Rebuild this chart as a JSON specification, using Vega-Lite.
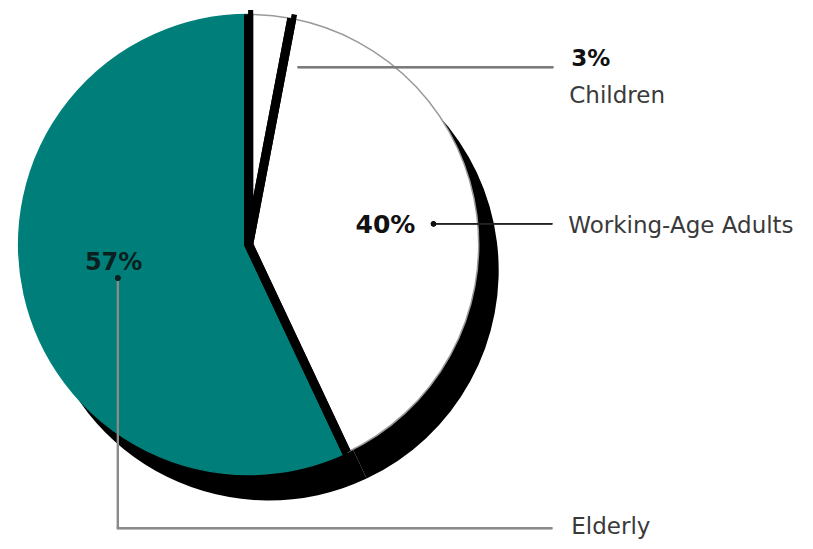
{
  "$schema": "https://vega.github.io/schema/vega-lite/v6.json",
  "width": 813,
  "height": 549,
  "autosize": {"type": "fit", "contains": "padding"},
  "padding": 0,
  "background": "white",
  "config": {"view": {"stroke": null}},
  "data": {
    "values": [
      {"group": "Children", "share": 0.03},
      {"group": "Working-Age Adults", "share": 0.40},
      {"group": "Elderly", "share": 0.57}
    ]
  },
  "transform": [
    {"stack": "share", "groupby": [], "sort": [{"field": "share", "order": "ascending"}], "as": ["t0", "t1"]}
  ],
  "layer": [
    {
      "mark": {"type": "arc", "outerRadius": 230, "fill": "black", "stroke": null, "xOffset": 20, "yOffset": 26},
      "encoding": {
        "x": {"datum": 248, "type": "quantitative", "scale": {"domain": [0, 813], "nice": false, "zero": false}, "axis": null},
        "y": {"datum": 240, "type": "quantitative", "scale": {"domain": [0, 549], "nice": false, "zero": false, "reverse": true}, "axis": null},
        "theta": {"field": "t0", "type": "quantitative", "scale": {"domain": [0, 1]}},
        "theta2": {"field": "t1"}
      }
    },
    {
      "mark": {"type": "arc", "outerRadius": 230, "strokeWidth": 1.5},
      "encoding": {
        "x": {"datum": 248, "type": "quantitative"},
        "y": {"datum": 240, "type": "quantitative"},
        "theta": {"field": "t0", "type": "quantitative"},
        "theta2": {"field": "t1"},
        "fill": {"field": "group", "type": "nominal", "scale": {"domain": ["Children", "Working-Age Adults", "Elderly"], "range": ["#ffffff", "#ffffff", "#007f7a"]}, "legend": null},
        "stroke": {"field": "group", "type": "nominal", "scale": {"domain": ["Children", "Working-Age Adults", "Elderly"], "range": ["#9a9a9a", "#9a9a9a", "#007f7a"]}, "legend": null}
      }
    },
    {
      "transform": [{"filter": "datum.group === 'Children'"}],
      "mark": {"type": "arc", "outerRadius": 230, "filled": false, "stroke": "black", "strokeWidth": 9, "strokeJoin": "miter", "strokeDash": [0, 42.4, 2000]},
      "encoding": {
        "x": {"datum": 248, "type": "quantitative"},
        "y": {"datum": 240, "type": "quantitative"},
        "theta": {"field": "t0", "type": "quantitative"},
        "theta2": {"field": "t1"}
      }
    },
    {
      "transform": [{"filter": "datum.group === 'Working-Age Adults'"}],
      "mark": {"type": "arc", "outerRadius": 230, "filled": false, "stroke": "black", "strokeWidth": 9, "strokeJoin": "miter", "strokeDash": [0, 577, 2000]},
      "encoding": {
        "x": {"datum": 248, "type": "quantitative"},
        "y": {"datum": 240, "type": "quantitative"},
        "theta": {"field": "t0", "type": "quantitative"},
        "theta2": {"field": "t1"}
      }
    },
    {
      "transform": [{"filter": "datum.group === 'Elderly'"}],
      "mark": {"type": "arc", "outerRadius": 230, "filled": false, "stroke": "black", "strokeWidth": 9, "strokeJoin": "miter", "strokeDash": [0, 822.7, 2000]},
      "encoding": {
        "x": {"datum": 248, "type": "quantitative"},
        "y": {"datum": 240, "type": "quantitative"},
        "theta": {"field": "t0", "type": "quantitative"},
        "theta2": {"field": "t1"}
      }
    },
    {
      "mark": {"type": "rule", "color": "#7a7a7a", "strokeWidth": 2},
      "encoding": {
        "x": {"datum": 297, "type": "quantitative"},
        "x2": {"datum": 553},
        "y": {"datum": 60, "type": "quantitative"},
        "y2": {"datum": 60}
      }
    },
    {
      "mark": {"type": "rule", "color": "#222222", "strokeWidth": 1.5},
      "encoding": {
        "x": {"datum": 433, "type": "quantitative"},
        "x2": {"datum": 552},
        "y": {"datum": 219, "type": "quantitative"},
        "y2": {"datum": 219}
      }
    },
    {
      "mark": {"type": "rule", "color": "#8a8a8a", "strokeWidth": 2},
      "encoding": {
        "x": {"datum": 117, "type": "quantitative"},
        "x2": {"datum": 117},
        "y": {"datum": 273, "type": "quantitative"},
        "y2": {"datum": 528}
      }
    },
    {
      "mark": {"type": "rule", "color": "#8a8a8a", "strokeWidth": 2},
      "encoding": {
        "x": {"datum": 116, "type": "quantitative"},
        "x2": {"datum": 552},
        "y": {"datum": 528, "type": "quantitative"},
        "y2": {"datum": 528}
      }
    },
    {
      "mark": {"type": "point", "filled": true, "color": "#111111", "size": 28, "opacity": 1},
      "encoding": {
        "x": {"datum": 433, "type": "quantitative"},
        "y": {"datum": 219, "type": "quantitative"}
      }
    },
    {
      "mark": {"type": "point", "filled": true, "color": "#0a1f1e", "size": 28, "opacity": 1},
      "encoding": {
        "x": {"datum": 117, "type": "quantitative"},
        "y": {"datum": 274, "type": "quantitative"}
      }
    },
    {
      "transform": [{"filter": "datum.group === 'Children'"}],
      "mark": {"type": "text", "font": "DejaVu Sans", "fontWeight": "bold", "fontSize": 23, "align": "left", "baseline": "alphabetic", "color": "#111111"},
      "encoding": {
        "x": {"datum": 571, "type": "quantitative"},
        "y": {"datum": 59, "type": "quantitative"},
        "text": {"field": "share", "type": "quantitative", "format": ".0%"}
      }
    },
    {
      "transform": [{"filter": "datum.group === 'Children'"}],
      "mark": {"type": "text", "font": "DejaVu Sans", "fontSize": 23, "align": "left", "baseline": "alphabetic", "color": "#3a3a3a"},
      "encoding": {
        "x": {"datum": 569, "type": "quantitative"},
        "y": {"datum": 96, "type": "quantitative"},
        "text": {"field": "group", "type": "nominal"}
      }
    },
    {
      "transform": [{"filter": "datum.group === 'Working-Age Adults'"}],
      "mark": {"type": "text", "font": "DejaVu Sans", "fontWeight": "bold", "fontSize": 25, "align": "left", "baseline": "alphabetic", "color": "#111111"},
      "encoding": {
        "x": {"datum": 355, "type": "quantitative"},
        "y": {"datum": 228, "type": "quantitative"},
        "text": {"field": "share", "type": "quantitative", "format": ".0%"}
      }
    },
    {
      "transform": [{"filter": "datum.group === 'Working-Age Adults'"}],
      "mark": {"type": "text", "font": "DejaVu Sans", "fontSize": 23, "align": "left", "baseline": "alphabetic", "color": "#3a3a3a"},
      "encoding": {
        "x": {"datum": 568, "type": "quantitative"},
        "y": {"datum": 228, "type": "quantitative"},
        "text": {"field": "group", "type": "nominal"}
      }
    },
    {
      "transform": [{"filter": "datum.group === 'Elderly'"}],
      "mark": {"type": "text", "font": "DejaVu Sans", "fontWeight": "bold", "fontSize": 24, "align": "left", "baseline": "alphabetic", "color": "#0a1f1e"},
      "encoding": {
        "x": {"datum": 84, "type": "quantitative"},
        "y": {"datum": 266, "type": "quantitative"},
        "text": {"field": "share", "type": "quantitative", "format": ".0%"}
      }
    },
    {
      "transform": [{"filter": "datum.group === 'Elderly'"}],
      "mark": {"type": "text", "font": "DejaVu Sans", "fontSize": 23, "align": "left", "baseline": "alphabetic", "color": "#3a3a3a"},
      "encoding": {
        "x": {"datum": 571, "type": "quantitative"},
        "y": {"datum": 534, "type": "quantitative"},
        "text": {"field": "group", "type": "nominal"}
      }
    }
  ]
}
